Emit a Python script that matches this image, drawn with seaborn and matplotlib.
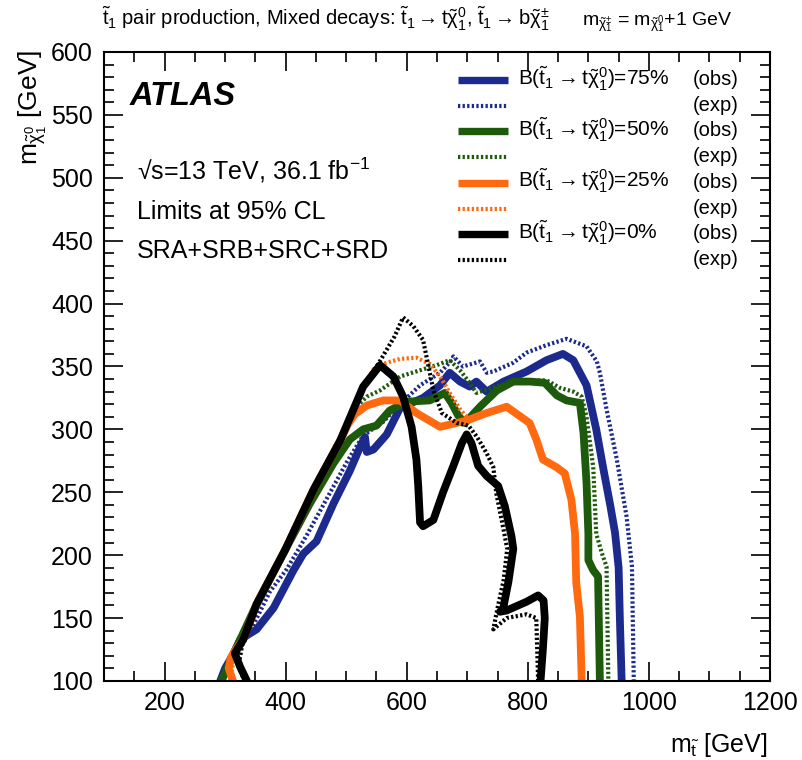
import matplotlib
matplotlib.use("Agg")
import matplotlib.pyplot as plt
import seaborn as sns
from matplotlib.ticker import MultipleLocator

# Exclusion contours (m_stop, m_neutralino) in GeV
obs75_x = [292, 300, 312, 325, 352, 380, 413, 429, 451, 479, 506, 523, 531, 534, 545, 567, 589, 627, 655, 671, 688, 704, 715, 732, 760, 798, 831, 858, 875, 897, 913, 925, 936, 944, 950, 952, 955]
obs75_y = [100, 110, 120, 133, 141, 158, 188, 201, 211, 241, 267, 286, 294, 282, 284, 296, 317, 325, 335, 345, 338, 334, 338, 330, 338, 346, 355, 360, 355, 335, 300, 268, 240, 218, 190, 150, 100]
exp75_x = [292, 341, 374, 402, 435, 468, 501, 528, 561, 589, 622, 655, 674, 677, 693, 721, 732, 743, 776, 798, 831, 864, 897, 914, 919, 930, 947, 963, 972, 975]
exp75_y = [100, 139, 171, 189, 216, 245, 274, 295, 306, 320, 335, 345, 355, 358, 350, 354, 345, 346, 353, 361, 367, 372, 366, 354, 345, 316, 276, 231, 191, 100]

obs50_x = [294, 325, 352, 399, 440, 479, 506, 528, 550, 572, 600, 638, 663, 674, 685, 696, 721, 749, 776, 804, 828, 848, 864, 886, 892, 897, 900, 900, 908, 916, 919]
obs50_y = [100, 133, 161, 204, 241, 273, 292, 300, 303, 315, 322, 323, 329, 321, 311, 305, 318, 331, 338, 338, 337, 327, 323, 321, 297, 257, 217, 196, 188, 183, 100]
exp50_x = [292, 330, 352, 399, 446, 490, 517, 534, 556, 589, 622, 649, 671, 688, 704, 715, 748, 776, 831, 853, 875, 889, 897, 908, 913, 922, 930, 933]
exp50_y = [100, 133, 161, 204, 252, 291, 318, 326, 331, 342, 347, 351, 355, 347, 337, 329, 334, 338, 339, 333, 330, 326, 310, 270, 217, 202, 191, 100]

obs25_x = [313, 306, 309, 316, 330, 352, 399, 446, 490, 503, 514, 534, 561, 589, 616, 655, 699, 732, 765, 803, 814, 825, 847, 861, 872, 878, 880, 886, 889]
obs25_y = [100, 110, 118, 124, 133, 161, 204, 252, 291, 304, 312, 319, 323, 323, 313, 302, 307, 313, 318, 305, 292, 276, 270, 265, 244, 217, 178, 151, 100]
exp25_x = [308, 316, 330, 352, 399, 446, 490, 528, 548, 560, 589, 616, 638, 655, 671, 688, 704, 732, 765, 803, 814, 825, 847, 861, 872, 878, 880, 886, 889]
exp25_y = [100, 122, 133, 161, 204, 252, 291, 334, 350, 352, 356, 357, 352, 342, 329, 316, 307, 313, 318, 305, 292, 276, 270, 265, 244, 217, 178, 151, 100]

obs0_x = [336, 325, 316, 330, 352, 399, 446, 490, 528, 556, 578, 594, 608, 616, 619, 622, 627, 644, 660, 677, 691, 699, 707, 718, 732, 751, 762, 773, 776, 768, 759, 754, 765, 798, 817, 826, 828, 825, 821]
obs0_y = [100, 111, 122, 133, 161, 204, 252, 291, 334, 351, 342, 326, 302, 276, 255, 226, 223, 228, 250, 271, 289, 296, 289, 271, 263, 255, 239, 215, 205, 179, 157, 155, 156, 163, 168, 164, 150, 126, 100]
exp0_x = [332, 322, 330, 352, 399, 446, 490, 528, 553, 580, 594, 611, 627, 636, 644, 658, 683, 702, 716, 732, 743, 748, 758, 766, 760, 750, 743, 765, 798, 814, 817]
exp0_y = [100, 112, 133, 161, 204, 252, 291, 334, 352, 374, 389, 382, 371, 350, 331, 313, 305, 303, 294, 281, 270, 249, 225, 205, 180, 158, 141, 150, 153, 150, 100]

branchings = ["75%", "50%", "25%", "0%"]
colors = ["#1b2a8c", "#1d5a0c", "#ff6a10", "#000000"]
curves = [(obs75_x, obs75_y, exp75_x, exp75_y),
          (obs50_x, obs50_y, exp50_x, exp50_y),
          (obs25_x, obs25_y, exp25_x, exp25_y),
          (obs0_x, obs0_y, exp0_x, exp0_y)]

sns.set_style("ticks", rc={"axes.edgecolor": "black", "text.color": "black",
                           "axes.labelcolor": "black", "xtick.color": "black",
                           "ytick.color": "black"})
plt.rcParams["font.family"] = ["Liberation Sans", "DejaVu Sans"]
plt.rcParams["mathtext.fontset"] = "custom"
plt.rcParams["mathtext.rm"] = "Liberation Sans"
plt.rcParams["mathtext.it"] = "Liberation Sans"
plt.rcParams["mathtext.bf"] = "Liberation Sans:bold"

dotted = (0, (0.55, 0.55))

fig = plt.figure(figsize=(8.02, 7.6), dpi=100)
ax = fig.add_axes([0.1297, 0.104, 0.8304, 0.8276])

for (ox, oy, ex, ey), c in zip(curves, colors):
    sns.lineplot(x=ox, y=oy, sort=False, estimator=None, color=c, lw=5.6, ax=ax)
    sns.lineplot(x=ex, y=ey, sort=False, estimator=None, color=c, lw=3, linestyle=dotted, ax=ax)

ax.set_xlim(100, 1200)
ax.set_ylim(100, 600)
ax.xaxis.set_major_locator(MultipleLocator(200))
ax.xaxis.set_minor_locator(MultipleLocator(50))
ax.yaxis.set_major_locator(MultipleLocator(50))
ax.yaxis.set_minor_locator(MultipleLocator(10))
ax.tick_params(which="both", direction="in", top=True, right=True, width=1.2, labelsize=18)
ax.tick_params(which="major", length=14)
ax.tick_params(which="minor", length=7)
ax.tick_params(axis="x", pad=7)
ax.tick_params(axis="y", pad=8)
for s in ax.spines.values():
    s.set_linewidth(1.5)

ax.set_xlabel(r"$m_{\tilde{t}}$ [GeV]", fontsize=18, loc="right")
ax.xaxis.set_label_coords(0.9955, -0.1129)
ax.xaxis.label.set_va("baseline")
ax.set_ylabel(r"$m_{\tilde{\chi}^0_1}$ [GeV]", fontsize=19, loc="top")
ax.yaxis.set_label_coords(-0.0991, 1.003)
ax.yaxis.label.set_va("baseline")

# legend drawn by hand, ROOT style
row0 = 0.9555
step = 0.0409
for i, (b, c) in enumerate(zip(branchings, colors)):
    yo = row0 - 2 * i * step
    ye = yo - step
    ax.plot([0.5315, 0.6066], [yo, yo], transform=ax.transAxes, color=c, lw=5.3, solid_capstyle="butt")
    ax.plot([0.5315, 0.6066], [ye, ye], transform=ax.transAxes, color=c, lw=3, linestyle=dotted)
    ax.text(0.6216, yo - 0.008, r"B($\tilde{t}_1\rightarrow t\tilde{\chi}^0_1$)=" + b,
            transform=ax.transAxes, fontsize=15, va="baseline")
    ax.text(0.8844, yo - 0.008, "(obs)", transform=ax.transAxes, fontsize=14.5, va="baseline")
    ax.text(0.8844, ye - 0.008, "(exp)", transform=ax.transAxes, fontsize=14.5, va="baseline")

ax.text(0.039, 0.9157, "ATLAS", transform=ax.transAxes, fontsize=23.5,
        fontweight="bold", fontstyle="italic", va="baseline")
ax.text(0.0495, 0.7965, "\u221as=13 TeV, 36.1 fb$^{-1}$", transform=ax.transAxes, fontsize=18, va="baseline")
ax.text(0.0495, 0.7345, "Limits at 95% CL", transform=ax.transAxes, fontsize=18, va="baseline")
ax.text(0.0495, 0.6725, "SRA+SRB+SRC+SRD", transform=ax.transAxes, fontsize=18, va="baseline")

fig.text(0.127, 0.967, r"$\tilde{t}_1$ pair production, Mixed decays: $\tilde{t}_1\rightarrow t\tilde{\chi}^0_1$, "
         r"$\tilde{t}_1\rightarrow b\tilde{\chi}^{\pm}_1$", fontsize=14.5, va="baseline")
fig.text(0.7257, 0.967, r"$m_{\tilde{\chi}^{\pm}_1}$ = $m_{\tilde{\chi}^0_1}$+1 GeV", fontsize=14, va="baseline")

fig.savefig("out.png", dpi=100)
plt.close(fig)
